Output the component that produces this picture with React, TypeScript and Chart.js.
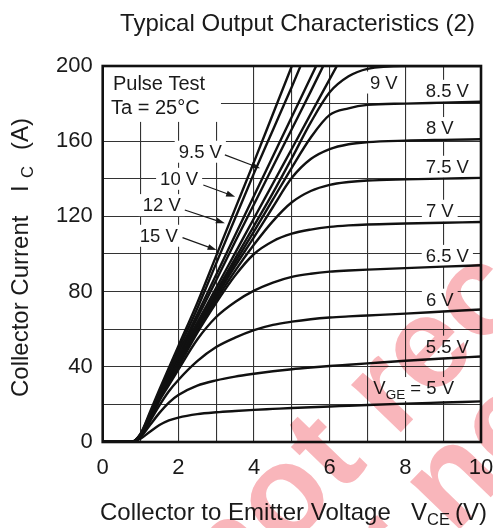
import React, { useEffect, useRef } from "react";
import { Chart, registerables } from "chart.js";

Chart.register(...registerables);

const FONT = "'Liberation Sans', Arial, Helvetica, sans-serif";

const TITLE = "Typical Output Characteristics (2)";
const X_TITLE_MAIN = "Collector to Emitter Voltage";
const Y_TITLE_MAIN = "Collector Current";

// Collector-emitter voltage sample points (V)
const VCE = [0, 0.75, 1.0, 1.25, 1.5, 1.75, 2, 2.5, 3, 3.5, 4, 4.5, 5, 5.5, 6, 6.5, 7, 8, 9, 10];

// Collector current (A) for each gate voltage
const IC_15V = [0, 0, 4.5, 16, 28, 39.5, 51, 74, 99, 124, 149, 174.5, 200, 226, null, null, null, null, null, null];
const IC_12V = [0, 0, 4.2, 15, 27, 38, 49, 71, 95, 119, 143, 166, 189, 213, null, null, null, null, null, null];
const IC_10V = [0, 0, 4, 14.5, 26, 36.5, 47, 68, 89, 110, 131, 152, 173, 194, 215, null, null, null, null, null];
const IC_9V5 = [0, 0, 3.8, 14, 25.5, 35.8, 46, 66, 86, 106.5, 126.5, 146.5, 166.5, 186.5, 207, null, null, null, null, null];
const IC_STEEP5 = [0, 0, 3.6, 13.5, 25, 35, 45, 63.5, 82, 100.5, 119, 137.5, 156, 174.5, 193, 211.5, null, null, null, null];
const IC_9V = [0, 0, 3.5, 13.3, 24.5, 34.2, 44, 62, 80, 97.5, 115, 132.5, 151, 170, 186, 194.5, 198.5, 200, 200, 200];
const IC_8V5 = [0, 0, 3.4, 13, 24, 33.5, 43, 61, 78.5, 95.5, 112, 129, 146, 162, 174, 177.5, 179.3, 180, 180.5, 181];
const IC_8V = [0, 0, 3.3, 12.8, 23.5, 32.8, 42, 60, 77, 93.5, 109, 125, 140.5, 150.5, 155.8, 158.4, 159.5, 160.3, 160.7, 161];
const IC_7V5 = [0, 0, 3.2, 12.5, 23, 32, 41, 59, 75.5, 91, 105, 117.5, 127.5, 133.5, 136.8, 138.3, 139.1, 139.7, 140.1, 140.5];
const IC_7V = [0, 0, 3.1, 12.2, 22.5, 31.2, 40, 58, 74, 88.5, 100, 106.8, 110.8, 113, 114.4, 115.2, 115.7, 116.2, 116.6, 117];
const IC_6V5 = [0, 0, 3, 11.8, 22, 30.2, 38.5, 54.5, 66.5, 74.5, 80.5, 84.8, 87.8, 89.5, 90.6, 91.2, 91.7, 92.5, 93.3, 94];
const IC_6V = [0, 0, 2.8, 11, 19.5, 27, 33, 43, 50.5, 55.5, 59.5, 62.3, 64, 65.3, 66.2, 66.8, 67.3, 68.3, 69.4, 70.5];
const IC_5V5 = [0, 0, 2.5, 9, 15.5, 21, 25, 30, 32.8, 34.8, 36.3, 37.6, 38.7, 39.6, 40.4, 41.1, 41.8, 43.2, 44.4, 45.5];
const IC_5V = [0, 0, 1.8, 5.5, 9, 11.5, 13, 14.8, 15.8, 16.5, 17.1, 17.6, 18.1, 18.5, 18.9, 19.3, 19.7, 20.4, 21, 21.6];

const SERIES = [IC_15V, IC_12V, IC_10V, IC_9V5, IC_STEEP5, IC_9V, IC_8V5, IC_8V, IC_7V5, IC_7V, IC_6V5, IC_6V, IC_5V5, IC_5V];
const SERIES_NAMES = ["15 V", "12 V", "10 V", "9.5 V", "", "9 V", "8.5 V", "8 V", "7.5 V", "7 V", "6.5 V", "6 V", "5.5 V", "5 V"];

// Right-hand curve labels: text, VCE centre, IC centre
const RIGHT_LABELS = ["9 V", "8.5 V", "8 V", "7.5 V", "7 V", "6.5 V", "6 V", "5.5 V"];
const RIGHT_LABEL_X = [7.43, 9.11, 8.91, 9.11, 8.91, 9.11, 8.91, 9.11];
const RIGHT_LABEL_Y = [191.2, 186.8, 167, 146.4, 123, 99, 75.7, 50.7];

// Arrow labels on the left of the bundle
const ARROW_LABELS = ["9.5 V", "10 V", "12 V", "15 V"];
const ARROW_LABEL_X = [2.58, 2.02, 1.56, 1.48];
const ARROW_LABEL_Y = [154.4, 140, 126, 109.7];
const ARROW_TAIL_X = [3.23, 2.66, 2.17, 2.11];
const ARROW_TAIL_Y = [152.7, 136.7, 123.4, 108.7];
const ARROW_TIP_X = [4.16, 3.5, 3.23, 3.01];
const ARROW_TIP_Y = [145.6, 130.5, 116.3, 102.1];

const annotationPlugin = {
  id: "annotations",
  beforeDatasetsDraw(chart: any) {
    const { ctx, chartArea, scales } = chart;
    const xs = scales.x;
    const ys = scales.y;
    const px = (v: number) => xs.getPixelForValue(v);
    const py = (v: number) => ys.getPixelForValue(v);
    ctx.save();
    // Pulse test box
    ctx.fillStyle = "#fff";
    ctx.fillRect(chartArea.left + 1, chartArea.top + 1, px(3.1) - chartArea.left, py(170.8) - chartArea.top);
    ctx.fillStyle = "#1a1a1a";
    ctx.font = `20px ${FONT}`;
    ctx.textBaseline = "middle";
    ctx.textAlign = "left";
    ctx.fillText("Pulse Test", px(0.27), py(190));
    ctx.fillText("Ta = 25°C", px(0.22), py(177.5));

    ctx.font = `18.5px ${FONT}`;
    ctx.textAlign = "center";
    const boxLabel = (t: string, cx: number, cy: number) => {
      const w = ctx.measureText(t).width;
      ctx.fillStyle = "#fff";
      ctx.fillRect(cx - w / 2 - 4, cy - 11, w + 8, 22);
      ctx.fillStyle = "#1a1a1a";
      ctx.fillText(t, cx, cy + 1);
    };
    for (let i = 0; i < RIGHT_LABELS.length; i++) {
      boxLabel(RIGHT_LABELS[i], px(RIGHT_LABEL_X[i]), py(RIGHT_LABEL_Y[i]));
    }
    for (let i = 0; i < ARROW_LABELS.length; i++) {
      boxLabel(ARROW_LABELS[i], px(ARROW_LABEL_X[i]), py(ARROW_LABEL_Y[i]));
      const x1 = px(ARROW_TAIL_X[i]);
      const y1 = py(ARROW_TAIL_Y[i]);
      const x2 = px(ARROW_TIP_X[i]);
      const y2 = py(ARROW_TIP_Y[i]);
      const ang = Math.atan2(y2 - y1, x2 - x1);
      ctx.strokeStyle = "#1a1a1a";
      ctx.lineWidth = 1.2;
      ctx.beginPath();
      ctx.moveTo(x1, y1);
      ctx.lineTo(x2 - 7 * Math.cos(ang), y2 - 7 * Math.sin(ang));
      ctx.stroke();
      ctx.beginPath();
      ctx.moveTo(x2, y2);
      ctx.lineTo(x2 - 9 * Math.cos(ang) + 3 * Math.sin(ang), y2 - 9 * Math.sin(ang) - 3 * Math.cos(ang));
      ctx.lineTo(x2 - 9 * Math.cos(ang) - 3 * Math.sin(ang), y2 - 9 * Math.sin(ang) + 3 * Math.cos(ang));
      ctx.closePath();
      ctx.fillStyle = "#1a1a1a";
      ctx.fill();
    }
    // V_GE = 5 V label
    const vx = px(8.22);
    const vy = py(28.7);
    ctx.textAlign = "left";
    const big = `18.5px ${FONT}`;
    const small = `13.5px ${FONT}`;
    ctx.font = big;
    const wV = ctx.measureText("V").width;
    const wRest = ctx.measureText(" = 5 V").width;
    ctx.font = small;
    const wGE = ctx.measureText("GE").width;
    const total = wV + wGE + wRest;
    const left = vx - total / 2;
    ctx.fillStyle = "#fff";
    ctx.fillRect(left - 4, vy - 11, total + 8, 24);
    ctx.fillStyle = "#1a1a1a";
    ctx.font = big;
    ctx.fillText("V", left, vy + 1);
    ctx.font = small;
    ctx.fillText("GE", left + wV, vy + 7);
    ctx.font = big;
    ctx.fillText(" = 5 V", left + wV + wGE, vy + 1);
    ctx.restore();
  },
  afterDatasetsDraw(chart: any) {
    const { ctx, chartArea } = chart;
    ctx.save();
    ctx.strokeStyle = "#111";
    ctx.lineWidth = 2.6;
    ctx.strokeRect(chartArea.left, chartArea.top, chartArea.right - chartArea.left, chartArea.bottom - chartArea.top);
    ctx.restore();
  },
  afterDraw(chart: any) {
    const { ctx } = chart;
    ctx.save();
    ctx.fillStyle = "#1a1a1a";
    ctx.textBaseline = "alphabetic";
    // title
    ctx.font = `24px ${FONT}`;
    ctx.textAlign = "center";
    ctx.fillText(TITLE, 297.5, 31);
    // x title
    ctx.textAlign = "left";
    ctx.fillText(X_TITLE_MAIN, 100, 520);
    ctx.fillText("V", 411, 520);
    ctx.fillText("(V)", 455, 520);
    ctx.font = `16.5px ${FONT}`;
    ctx.fillText("CE", 427, 525);
    // y title
    ctx.save();
    ctx.translate(28, 397);
    ctx.rotate(-Math.PI / 2);
    ctx.font = `24px ${FONT}`;
    ctx.fillText(Y_TITLE_MAIN, 0, 0);
    ctx.fillText("I", 205, 0);
    ctx.fillText("(A)", 247, 0);
    ctx.font = `16.5px ${FONT}`;
    ctx.fillText("C", 219, 5);
    ctx.restore();

    // watermark
    ctx.globalCompositeOperation = "multiply";
    ctx.fillStyle = "rgb(249,182,187)";
    ctx.font = `bold 130px ${FONT}`;
    ctx.translate(229, 610);
    ctx.rotate((-46 * Math.PI) / 180);
    ctx.fillText("not recommended", 0, 0);
    ctx.fillText("for new design", 0, 110);
    ctx.restore();
  },
};

export default function App() {
  const ref = useRef<HTMLCanvasElement | null>(null);
  useEffect(() => {
    if (!ref.current) return;
    Chart.defaults.font.family = FONT;
    const datasets = SERIES.map((arr, k) => ({
      label: SERIES_NAMES[k],
      data: VCE.map((v, i) => ({ x: v, y: arr[i] })),
      borderColor: "#111",
      borderWidth: 2.4,
      pointRadius: 0,
      fill: false,
      cubicInterpolationMode: "monotone" as const,
      spanGaps: false,
    }));
    const chart = new Chart(ref.current, {
      type: "line",
      data: { datasets },
      options: {
        responsive: false,
        animation: false,
        events: [],
        layout: { padding: { top: 66, right: 12, left: 0, bottom: 0 } },
        plugins: { legend: { display: false }, tooltip: { enabled: false }, title: { display: false } },
        scales: {
          x: {
            type: "linear",
            min: 0,
            max: 10,
            afterFit: (s: any) => {
              s.height = 86;
              s.paddingLeft = 0;
              s.paddingRight = 0;
            },
            ticks: {
              stepSize: 1,
              autoSkip: false,
              maxRotation: 0,
              padding: 13,
              color: "#1a1a1a",
              font: { size: 22 },
              callback: (v: any) => (Number(v) % 2 === 0 ? String(v) : ""),
            },
            grid: { color: "#333", lineWidth: 1.1, drawTicks: false },
            border: { display: false },
          },
          y: {
            type: "linear",
            min: 0,
            max: 200,
            afterFit: (s: any) => {
              s.width = 102.7;
              s.paddingTop = 0;
              s.paddingBottom = 0;
            },
            ticks: {
              stepSize: 20,
              autoSkip: false,
              padding: 10,
              color: "#1a1a1a",
              font: { size: 22 },
              callback: (v: any) => (Number(v) % 40 === 0 ? String(v) : ""),
            },
            grid: { color: "#333", lineWidth: 1.1, drawTicks: false },
            border: { display: false },
          },
        },
      },
      plugins: [annotationPlugin],
    });
    return () => chart.destroy();
  }, []);
  return (
    <div style={{ position: "fixed", left: 0, top: 0, width: 493, height: 528, background: "#fff" }}>
      <canvas ref={ref} width={493} height={528} />
    </div>
  );
}
